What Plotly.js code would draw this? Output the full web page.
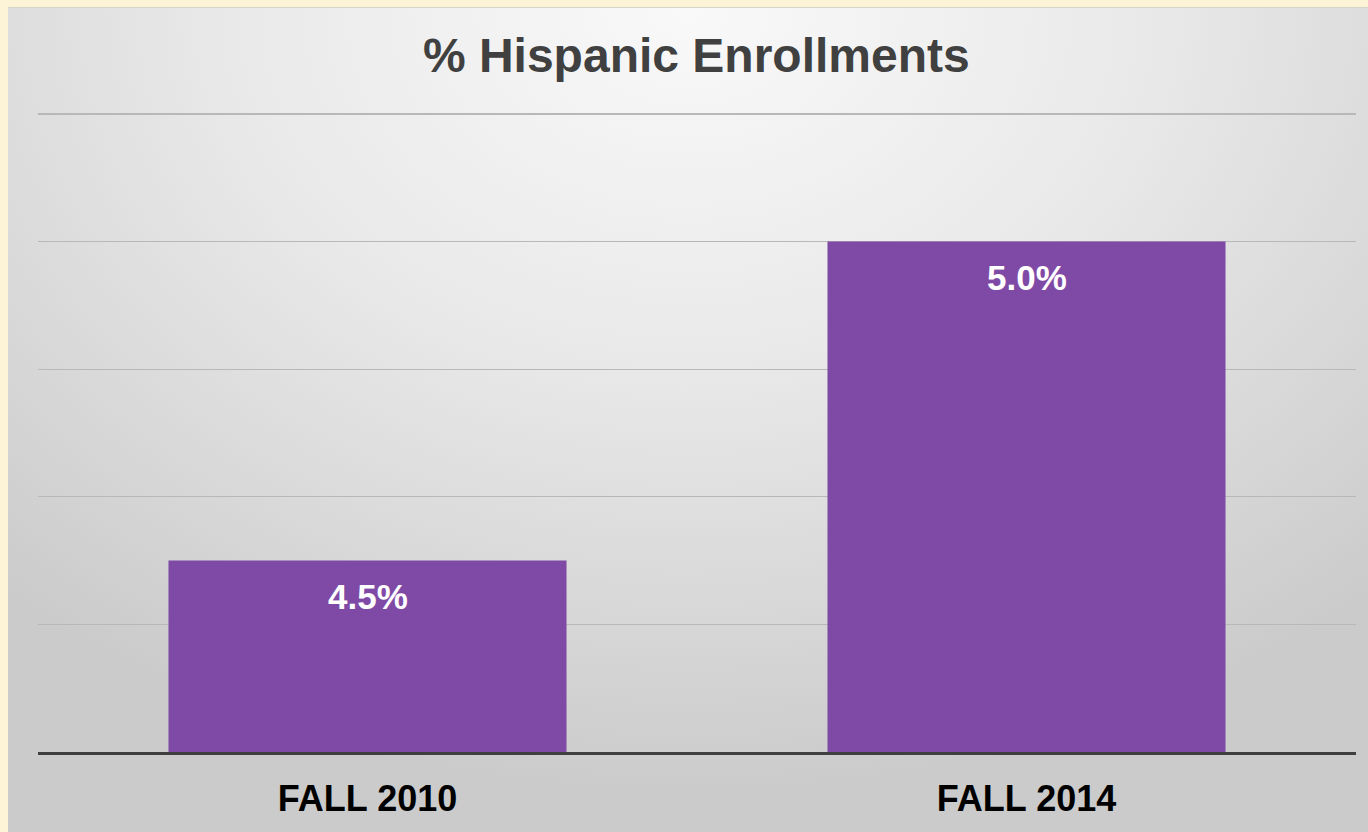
<!DOCTYPE html>
<html>
<head>
<meta charset="utf-8">
<script src="https://cdn.plot.ly/plotly-3.0.1.min.js"></script>
<style>
  html, body { margin: 0; padding: 0; width: 1368px; height: 832px; overflow: hidden; background: #fdf3d6; }
  #panel { position: absolute; left: 8px; top: 7px; width: 1360px; height: 825px;
    border-top: 1px solid #d8d4c8;
    background: radial-gradient(ellipse 75% 95% at 50% 0%, #f9f9f9 0%, #e9e9e9 45%, #d6d6d6 80%, #cbcbcb 100%); }
  #chart { position: absolute; left: 0; top: 0; width: 1368px; height: 832px; }
</style>
</head>
<body>
<div id="panel"></div>
<div id="chart"></div>
<script>
const categories = ["FALL 2010", "FALL 2014"];
const values = [4.5, 5.0];
const valueLabels = ["4.5%", "5.0%"];
const chartTitle = "% Hispanic Enrollments";

const trace = {
  type: "bar",
  x: categories,
  y: values,
  marker: { color: "#7f4aa6" },
  hoverinfo: "none"
};

const annotations = categories.map((c, i) => ({
  x: c, y: values[i], xref: "x", yref: "y",
  text: valueLabels[i], showarrow: false,
  yanchor: "top", yshift: -14,
  font: { family: "Liberation Sans, Arial, sans-serif", size: 35, color: "#ffffff", weight: "bold" }
}));

const layout = {
  width: 1368, height: 832,
  margin: { l: 38, r: 12, t: 111, b: 80 },
  paper_bgcolor: "rgba(0,0,0,0)",
  plot_bgcolor: "rgba(0,0,0,0)",
  bargap: 0.396,
  showlegend: false,
  title: {
    text: "<b>" + chartTitle + "</b>",
    x: 0.509, xanchor: "center", y: 1 - 55/832, yanchor: "middle", yref: "container",
    font: { family: "Liberation Sans, Arial, sans-serif", size: 48, color: "#404040" }
  },
  xaxis: {
    type: "category",
    showline: true, linecolor: "#3f3f3f", linewidth: 2.5,
    showgrid: false, ticks: "", ticklabelstandoff: 13,
    tickfont: { family: "Liberation Sans, Arial, sans-serif", size: 36, color: "#000000", weight: "bold" }
  },
  yaxis: {
    range: [4.2, 5.2047], tick0: 4.2, dtick: 0.2,
    showticklabels: false, ticks: "",
    showgrid: true, gridcolor: "#b8b8b8", gridwidth: 1.3,
    zeroline: false, showline: false
  },
  annotations: annotations
};

Plotly.newPlot("chart", [trace], layout, { displayModeBar: false, staticPlot: true });
</script>
</body>
</html>
